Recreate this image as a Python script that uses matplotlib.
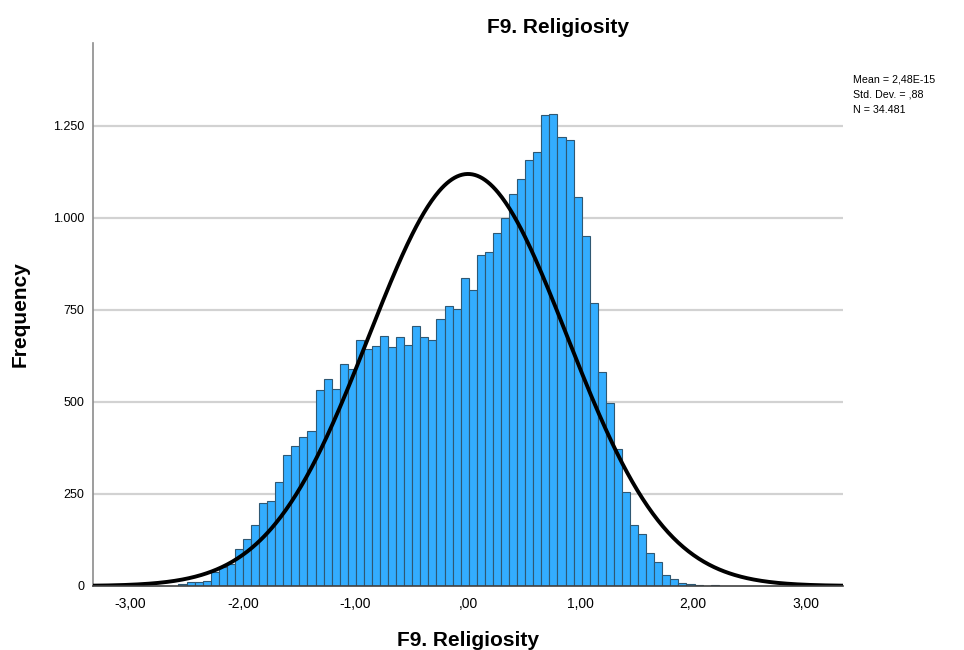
import numpy as np
import matplotlib
matplotlib.use("Agg")
import matplotlib.pyplot as plt
from matplotlib.ticker import FixedLocator

# ---- data ----
title = "F9. Religiosity"
x_label = "F9. Religiosity"
y_label = "Frequency"

bin_start = -2.571
bin_width = 0.0716
counts = [5, 11, 12, 14, 39, 51, 60, 100, 128, 166, 226, 232, 283, 356, 379, 406,
          422, 533, 562, 536, 603, 589, 667, 644, 653, 680, 649, 676, 654, 705,
          676, 669, 726, 761, 753, 836, 803, 899, 907, 960, 999, 1064, 1106, 1158,
          1180, 1279, 1283, 1219, 1212, 1058, 952, 768, 581, 498, 371, 256, 166,
          140, 89, 66, 30, 19, 7, 5, 4, 1, 4]

mean_val = 2.48e-15
std_val = 0.88
n_val = 34481
stats_lines = ["Mean = 2,48E-15", "Std. Dev. = ,88", "N = 34.481"]

x_ticks = [-3, -2, -1, 0, 1, 2, 3]
x_tick_labels = ["-3,00", "-2,00", "-1,00", ",00", "1,00", "2,00", "3,00"]
y_ticks = [0, 250, 500, 750, 1000, 1250]
y_tick_labels = ["0", "250", "500", "750", "1.000", "1.250"]

# ---- figure ----
plt.rcParams['font.family'] = ['Liberation Sans', 'DejaVu Sans']
fig = plt.figure(figsize=(9.64, 6.5), dpi=100)
ax = fig.add_axes([93/964, 1-586/650, (843-93)/964, (586-43)/650])

edges = bin_start + bin_width * np.arange(len(counts))
ax.bar(edges, counts, width=bin_width, align='edge', color='#33adff',
       edgecolor='#2f5873', linewidth=0.8, zorder=2)

xs = np.linspace(-3.4, 3.4, 600)
ys = n_val * bin_width / (std_val * np.sqrt(2*np.pi)) * np.exp(-0.5*((xs-mean_val)/std_val)**2)
ax.plot(xs, ys, color='black', lw=2.8, zorder=3, solid_capstyle='round')

ax.set_xlim(-3.33, 3.33)
ax.set_ylim(0, 1475)

ax.xaxis.set_major_locator(FixedLocator(x_ticks))
ax.set_xticklabels(x_tick_labels)
ax.yaxis.set_major_locator(FixedLocator(y_ticks))
ax.set_yticklabels(y_tick_labels)
ax.tick_params(axis='x', length=0, pad=8, labelsize=10, colors='#000000')
ax.tick_params(axis='y', length=0, pad=6, labelsize=9, colors='#000000')

for y in y_ticks[1:]:
    ax.axhline(y, color='#d2d2d2', lw=1.6, zorder=1)

for s in ['top', 'right']:
    ax.spines[s].set_visible(False)
ax.spines['left'].set_color('#8c8c8c')
ax.spines['left'].set_linewidth(1.2)
ax.spines['bottom'].set_color('#404040')
ax.spines['bottom'].set_linewidth(1.2)
ax.spines['bottom'].set_zorder(4)

fig.text(558/964, 1-33/650, title, ha='center', va='baseline',
         fontsize=15, fontweight='bold')
fig.text(468/964, 1-646/650, x_label, ha='center', va='baseline',
         fontsize=15, fontweight='bold')
fig.text(20/964, 1-314/650, y_label, ha='center', va='center', rotation=90,
         fontsize=15, fontweight='bold')

for i, line in enumerate(stats_lines):
    fig.text(853/964, 1-(79 + 15.5*i)/650, line, ha='left', va='center', fontsize=7.7)

fig.savefig("out.png", dpi=100)
